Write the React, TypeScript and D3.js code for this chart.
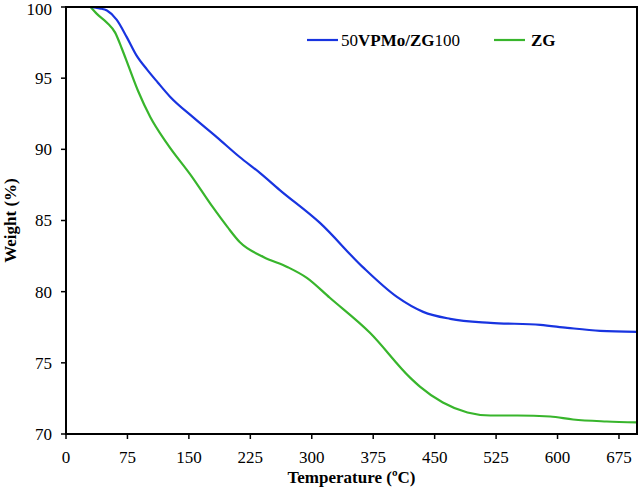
import React from 'react';
import * as d3 from 'd3';

// Temperature (ºC) and weight (%)
const vpmoTemp = [30, 41, 50, 62, 74, 86, 99, 112, 127, 155, 184, 212, 237, 261, 310, 362, 404, 436, 469, 518, 579, 612, 652, 697];
const vpmoWeight = [100, 99.9, 99.75, 99.1, 97.9, 96.6, 95.6, 94.7, 93.7, 92.26, 90.86, 89.46, 88.33, 87.14, 84.83, 81.74, 79.63, 78.58, 78.09, 77.81, 77.67, 77.46, 77.25, 77.18];

const zgTemp = [30, 38, 50, 60, 68, 76, 88, 103, 123, 154, 179, 197, 212, 241, 270, 294, 322, 371, 420, 432, 460, 490, 518, 551, 591, 619, 660, 697];
const zgWeight = [100, 99.5, 98.9, 98.2, 97.1, 95.9, 94.1, 92.26, 90.44, 88.05, 85.95, 84.55, 83.49, 82.44, 81.74, 80.97, 79.57, 77.11, 73.96, 73.33, 72.21, 71.51, 71.3, 71.3, 71.23, 71.02, 70.88, 70.81];

const xTicks = [0, 75, 150, 225, 300, 375, 450, 525, 600, 675];
const yTicks = [70, 75, 80, 85, 90, 95, 100];

const W = 640;
const H = 488;
const FONT = '"Liberation Serif", "Times New Roman", serif';

const App = () => {
  const x = d3.scaleLinear().domain([0, 697]).range([66, 637]);
  const y = d3.scaleLinear().domain([70, 100]).range([434, 7]);

  const line = d3.line<[number, number]>()
    .x(d => x(d[0]))
    .y(d => y(d[1]))
    .curve(d3.curveMonotoneX);

  const blue = line(vpmoTemp.map((t, i) => [t, vpmoWeight[i]]) as [number, number][]);
  const green = line(zgTemp.map((t, i) => [t, zgWeight[i]]) as [number, number][]);

  const [x0, x1] = x.range();
  const [y0, y1] = y.range();

  return (
    <svg width={W} height={H} style={{ position: 'absolute', left: 0, top: 0, background: '#fff' }} fontFamily={FONT}>
      <defs>
        <clipPath id="plot">
          <rect x={x0} y={y1} width={x1 - x0} height={y0 - y1} />
        </clipPath>
      </defs>
      <rect width={W} height={H} fill="#fff" />

      <g clipPath="url(#plot)" fill="none" strokeWidth={2.2}>
        <path d={green || ''} stroke="#38b52c" />
        <path d={blue || ''} stroke="#1834e0" />
      </g>

      {/* frame */}
      <rect x={x0} y={y1} width={x1 - x0} height={y0 - y1} fill="none" stroke="#000" strokeWidth={2} />

      {/* y ticks */}
      {yTicks.map(t => (
        <g key={'y' + t}>
          <line x1={x0 - 5} x2={x0} y1={y(t)} y2={y(t)} stroke="#000" strokeWidth={1.5} />
          <text x={x0 - 14} y={Math.max(y(t), 9)} dy="0.35em" textAnchor="end" fontSize={17}>{t}</text>
        </g>
      ))}

      {/* x ticks */}
      {xTicks.map(t => (
        <g key={'x' + t}>
          <line x1={x(t)} x2={x(t)} y1={y0} y2={y0 + 5} stroke="#000" strokeWidth={1.5} />
          <text x={x(t)} y={y0 + 29} textAnchor="middle" fontSize={17}>{t}</text>
        </g>
      ))}

      <text x={(x0 + x1) / 2} y={483} textAnchor="middle" fontSize={17} fontWeight="bold">Temperature (ºC)</text>
      <text transform={`translate(16,${(y0 + y1) / 2}) rotate(-90)`} textAnchor="middle" fontSize={17} fontWeight="bold">Weight (%)</text>

      {/* legend */}
      <line x1={307} x2={338} y1={40} y2={40} stroke="#1834e0" strokeWidth={2.2} />
      <text x={341} y={46} fontSize={17}>
        50<tspan fontWeight="bold">VPMo/ZG</tspan>100
      </text>
      <line x1={494} x2={525} y1={40} y2={40} stroke="#38b52c" strokeWidth={2.2} />
      <text x={531} y={46} fontSize={17} fontWeight="bold">ZG</text>
    </svg>
  );
};

export default App;
